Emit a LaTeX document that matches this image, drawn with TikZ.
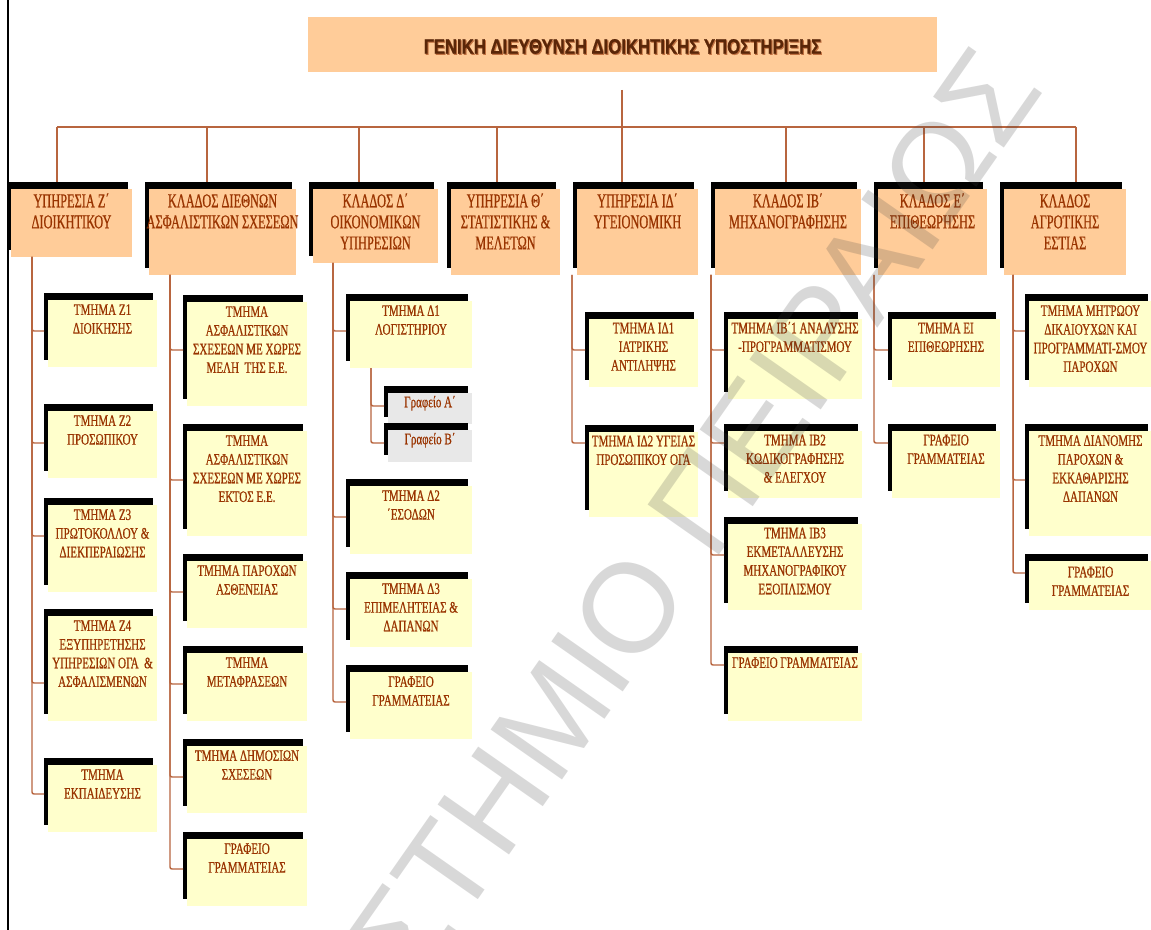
\documentclass[tikz,border=0pt]{standalone}
\usepackage{fontspec}
\setmainfont{Liberation Serif}
\newfontfamily\condA{Liberation Serif}[FakeStretch=0.63, FakeBold=0.6]
\newfontfamily\condB{Liberation Serif}[FakeStretch=0.69, FakeBold=0.6]
\newfontfamily\titlefont{Liberation Sans}[FakeStretch=0.8, FakeBold=0.8]
\newfontfamily\wmfont{Liberation Sans}
\usetikzlibrary{shadows}
\definecolor{peach}{HTML}{FFCC99}
\definecolor{paley}{HTML}{FFFFCC}
\definecolor{paleg}{HTML}{E8E8E8}
\definecolor{connc}{HTML}{B8653F}
\definecolor{txtc}{HTML}{993300}
\definecolor{titc}{HTML}{5A2608}
\definecolor{tits}{HTML}{C07040}
\tikzset{
  conn/.style={draw=connc, line width=1.1pt, rounded corners=1.5pt},
  boxbase/.style={rectangle, inner sep=0pt, outer sep=0pt, anchor=north west,
     general shadow={fill=black, shadow xshift=-3pt, shadow yshift=5pt}},
  lvA/.style={boxbase, fill=peach},
  lvB/.style={boxbase, fill=paley},
  lvC/.style={boxbase, fill=paleg},
  txtA/.style={font=\condA\fontsize{14.7}{15.8}\selectfont, text=txtc, align=center, inner sep=0pt, anchor=north},
  txtB/.style={font=\condB\fontsize{12}{14}\selectfont, text=txtc, align=center, inner sep=0pt, anchor=north},
  titlebox/.style={rectangle, fill=peach, inner sep=0pt, outer sep=0pt, anchor=north west},
  titletext/.style={font=\titlefont\bfseries\fontsize{15.7}{18}\selectfont, text=titc, inner sep=0pt},
  wmark/.style={font=\wmfont\fontsize{95}{95}\selectfont, text=black!75, text opacity=0.2, inner sep=0pt},
}
\newcommand\mkbox[7]{%
  \pgfmathsetmacro\mkbw{(#5-#3)*0.75}%
  \pgfmathsetmacro\mkbh{(#6-#4)*0.75}%
  \pgfmathsetmacro\mkdy{((#4+#6)/2-#7)*0.75}%
  \node[#2, minimum width=\mkbw pt, minimum height=\mkbh pt] (#1) at (#3,#4) {};
  \coordinate (#1-in) at ([xshift=-3pt, yshift=\mkdy pt]#1.west);
  \coordinate (#1-top) at ([yshift=5pt]#1.north);
}
\newcommand\mktxt[4]{\node[#2] (#1t) at (#1.north) {\rule{0pt}{#3}#4};}
\begin{document}
\begin{tikzpicture}[x=0.75pt, y=-0.75pt]
\useasboundingbox (0,0) rectangle (1151,930);
\clip (0,0) rectangle (1151,930);
\fill[white] (0,0) rectangle (1151,930);
\draw[line width=1.5pt] (8,0) -- (8,930);
% title
\node[titlebox, minimum width={629*0.75pt}, minimum height={55*0.75pt}] (top) at (308,17) {};
\node[titletext] (topt) at ([yshift=-1.9pt]top.center) {\rlap{\textcolor{tits}{\kern0.8pt\raisebox{-0.8pt}{ΓΕΝΙΚΗ ΔΙΕΥΘΥΝΣΗ ΔΙΟΙΚΗΤΙΚΗΣ ΥΠΟΣΤΗΡΙΞΗΣ}}}ΓΕΝΙΚΗ ΔΙΕΥΘΥΝΣΗ ΔΙΟΙΚΗΤΙΚΗΣ ΥΠΟΣΤΗΡΙΞΗΣ};
% level 1
\mkbox{L1}{lvA}{11}{189}{132}{257}{223}
\mkbox{L2}{lvA}{149}{189}{296}{275}{232}
\mkbox{L3}{lvA}{313}{189}{438}{263}{226}
\mkbox{L4}{lvA}{451}{189}{560}{275}{232}
\mkbox{L5}{lvA}{577}{189}{698}{275}{232}
\mkbox{L6}{lvA}{715}{189}{861}{275}{232}
\mkbox{L7}{lvA}{878}{189}{987}{275}{232}
\mkbox{L8}{lvA}{1004}{189}{1126}{275}{232}
\mktxt{L1}{txtA}{13.5pt}{ΥΠΗΡΕΣΙΑ Ζ΄\\ΔΙΟΙΚΗΤΙΚΟΥ}
\mktxt{L2}{txtA}{13.5pt}{ΚΛΑΔΟΣ ΔΙΕΘΝΩΝ\\ΑΣΦΑΛΙΣΤΙΚΩΝ ΣΧΕΣΕΩΝ}
\mktxt{L3}{txtA}{13.5pt}{ΚΛΑΔΟΣ Δ΄\\ΟΙΚΟΝΟΜΙΚΩΝ\\ΥΠΗΡΕΣΙΩΝ}
\mktxt{L4}{txtA}{13.5pt}{ΥΠΗΡΕΣΙΑ Θ΄\\ΣΤΑΤΙΣΤΙΚΗΣ \&\\ΜΕΛΕΤΩΝ}
\mktxt{L5}{txtA}{13.5pt}{ΥΠΗΡΕΣΙΑ ΙΔ΄\\ΥΓΕΙΟΝΟΜΙΚΗ}
\mktxt{L6}{txtA}{13.5pt}{ΚΛΑΔΟΣ ΙΒ΄\\ΜΗΧΑΝΟΓΡΑΦΗΣΗΣ}
\mktxt{L7}{txtA}{13.5pt}{ΚΛΑΔΟΣ Ε΄\\ΕΠΙΘΕΩΡΗΣΗΣ}
\mktxt{L8}{txtA}{13.5pt}{ΚΛΑΔΟΣ\\ΑΓΡΟΤΙΚΗΣ\\ΕΣΤΙΑΣ}
% top connectors
\coordinate (tp) at (622,90);
\coordinate (b1) at (57,127);
\coordinate (b2) at (207,127);
\coordinate (b3) at (359,127);
\coordinate (b4) at (497,127);
\coordinate (b6) at (786,127);
\coordinate (b7) at (924,127);
\coordinate (b8) at (1076,127);
\draw[conn] (b1) -- (b8);
\draw[conn] (tp) -- (tp |- L5-top);
\foreach \i in {1,2,3,4,6,7,8}{\draw[conn] (b\i) -- (b\i |- L\i-top);}
% column 1
\mkbox{Z1}{lvB}{48}{300}{157}{367}{331}
\mkbox{Z2}{lvB}{48}{411}{157}{478}{443}
\mkbox{Z3}{lvB}{48}{505}{157}{592}{536}
\mkbox{Z4}{lvB}{48}{616}{157}{721}{683}
\mkbox{Z5}{lvB}{48}{765}{157}{832}{794}
\mktxt{Z1}{txtB}{11pt}{ΤΜΗΜΑ Ζ1\\ΔΙΟΙΚΗΣΗΣ}
\mktxt{Z2}{txtB}{11pt}{ΤΜΗΜΑ Ζ2\\ΠΡΟΣΩΠΙΚΟΥ}
\mktxt{Z3}{txtB}{11pt}{ΤΜΗΜΑ Ζ3\\ΠΡΩΤΟΚΟΛΛΟΥ \&\\ΔΙΕΚΠΕΡΑΙΩΣΗΣ}
\mktxt{Z4}{txtB}{11pt}{ΤΜΗΜΑ Ζ4\\ΕΞΥΠΗΡΕΤΗΣΗΣ\\ΥΠΗΡΕΣΙΩΝ ΟΓΑ \ \&\\ΑΣΦΑΛΙΣΜΕΝΩΝ}
\mktxt{Z5}{txtB}{11pt}{ΤΜΗΜΑ\\ΕΚΠΑΙΔΕΥΣΗΣ}
\coordinate (t1) at (32,257);
\foreach \n in {Z1,Z2,Z3,Z4,Z5}{\draw[conn] (t1) |- (\n-in);}
% column 2
\mkbox{A1}{lvB}{187}{302}{307}{406}{350}
\mkbox{A2}{lvB}{187}{431}{307}{536}{480}
\mkbox{A3}{lvB}{187}{561}{307}{628}{592}
\mkbox{A4}{lvB}{187}{653}{307}{721}{684}
\mkbox{A5}{lvB}{187}{746}{307}{813}{777}
\mkbox{A6}{lvB}{187}{839}{307}{906}{869}
\mktxt{A1}{txtB}{11pt}{ΤΜΗΜΑ\\ΑΣΦΑΛΙΣΤΙΚΩΝ\\ΣΧΕΣΕΩΝ ΜΕ ΧΩΡΕΣ\\ΜΕΛΗ \ ΤΗΣ Ε.Ε.}
\mktxt{A2}{txtB}{11pt}{ΤΜΗΜΑ\\ΑΣΦΑΛΙΣΤΙΚΩΝ\\ΣΧΕΣΕΩΝ ΜΕ ΧΩΡΕΣ\\ΕΚΤΟΣ Ε.Ε.}
\mktxt{A3}{txtB}{11pt}{ΤΜΗΜΑ ΠΑΡΟΧΩΝ\\ΑΣΘΕΝΕΙΑΣ}
\mktxt{A4}{txtB}{11pt}{ΤΜΗΜΑ\\ΜΕΤΑΦΡΑΣΕΩΝ}
\mktxt{A5}{txtB}{11pt}{ΤΜΗΜΑ ΔΗΜΟΣΙΩΝ\\ΣΧΕΣΕΩΝ}
\mktxt{A6}{txtB}{11pt}{ΓΡΑΦΕΙΟ\\ΓΡΑΜΜΑΤΕΙΑΣ}
\coordinate (t2) at (170,275);
\foreach \n in {A1,A2,A3,A4,A5,A6}{\draw[conn] (t2) |- (\n-in);}
% column 3
\mkbox{D1}{lvB}{350}{301}{472}{368}{331}
\mkbox{GA}{lvC}{388}{393}{472}{424}{406}
\mkbox{GB}{lvC}{388}{430}{472}{462}{443}
\mkbox{D2}{lvB}{350}{486}{472}{554}{517}
\mkbox{D3}{lvB}{350}{579}{472}{647}{609}
\mkbox{D4}{lvB}{350}{672}{472}{739}{702}
\mktxt{D1}{txtB}{11pt}{ΤΜΗΜΑ Δ1\\ΛΟΓΙΣΤΗΡΙΟΥ}
\mktxt{GA}{txtB}{10.5pt}{Γραφείο Α΄}
\mktxt{GB}{txtB}{10.5pt}{Γραφείο Β΄}
\mktxt{D2}{txtB}{11pt}{ΤΜΗΜΑ Δ2\\΄ΕΣΟΔΩΝ}
\mktxt{D3}{txtB}{11pt}{ΤΜΗΜΑ Δ3\\ΕΠΙΜΕΛΗΤΕΙΑΣ \&\\ΔΑΠΑΝΩΝ}
\mktxt{D4}{txtB}{11pt}{ΓΡΑΦΕΙΟ\\ΓΡΑΜΜΑΤΕΙΑΣ}
\coordinate (t3) at (333,263);
\foreach \n in {D1,D2,D3,D4}{\draw[conn] (t3) |- (\n-in);}
\coordinate (s1) at (371,368);
\foreach \n in {GA,GB}{\draw[conn] (s1) |- (\n-in);}
% column 4
\mkbox{I1}{lvB}{589}{319}{698}{387}{350}
\mkbox{I2}{lvB}{589}{432}{698}{517}{443}
\mktxt{I1}{txtB}{10.5pt}{ΤΜΗΜΑ ΙΔ1\\ΙΑΤΡΙΚΗΣ\\ΑΝΤΙΛΗΨΗΣ}
\mktxt{I2}{txtB}{10.5pt}{ΤΜΗΜΑ ΙΔ2 ΥΓΕΙΑΣ\\ΠΡΟΣΩΠΙΚΟΥ ΟΓΑ}
\coordinate (t4) at (572,275);
\foreach \n in {I1,I2}{\draw[conn] (t4) |- (\n-in);}
% column 5
\mkbox{B1}{lvB}{728}{319}{862}{399}{350}
\mkbox{B2}{lvB}{728}{431}{862}{498}{443}
\mkbox{B3}{lvB}{728}{524}{862}{610}{555}
\mkbox{B4}{lvB}{728}{653}{862}{721}{665}
\mktxt{B1}{txtB}{10.5pt}{ΤΜΗΜΑ ΙΒ΄1 ΑΝΑΛΥΣΗΣ\\-ΠΡΟΓΡΑΜΜΑΤΙΣΜΟΥ}
\mktxt{B2}{txtB}{10.5pt}{ΤΜΗΜΑ ΙΒ2\\ΚΩΔΙΚΟΓΡΑΦΗΣΗΣ\\\& ΕΛΕΓΧΟΥ}
\mktxt{B3}{txtB}{10.5pt}{ΤΜΗΜΑ ΙΒ3\\ΕΚΜΕΤΑΛΛΕΥΣΗΣ\\ΜΗΧΑΝΟΓΡΑΦΙΚΟΥ\\ΕΞΟΠΛΙΣΜΟΥ}
\mktxt{B4}{txtB}{11pt}{ΓΡΑΦΕΙΟ ΓΡΑΜΜΑΤΕΙΑΣ}
\coordinate (t5) at (711,275);
\foreach \n in {B1,B2,B3,B4}{\draw[conn] (t5) |- (\n-in);}
% column 6
\mkbox{E1}{lvB}{892}{319}{1000}{387}{350}
\mkbox{E2}{lvB}{892}{431}{1000}{498}{443}
\mktxt{E1}{txtB}{10.5pt}{ΤΜΗΜΑ ΕΙ\\ΕΠΙΘΕΩΡΗΣΗΣ}
\mktxt{E2}{txtB}{10.5pt}{ΓΡΑΦΕΙΟ\\ΓΡΑΜΜΑΤΕΙΑΣ}
\coordinate (t6) at (874,275);
\foreach \n in {E1,E2}{\draw[conn] (t6) |- (\n-in);}
% column 7
\mkbox{R1}{lvB}{1029}{301}{1152}{387}{331}
\mkbox{R2}{lvB}{1029}{431}{1152}{536}{480}
\mkbox{R3}{lvB}{1029}{561}{1152}{610}{573}
\mktxt{R1}{txtB}{11pt}{ΤΜΗΜΑ ΜΗΤΡΩΟΥ\\ΔΙΚΑΙΟΥΧΩΝ ΚΑΙ\\ΠΡΟΓΡΑΜΜΑΤΙ-ΣΜΟΥ\\ΠΑΡΟΧΩΝ}
\mktxt{R2}{txtB}{11pt}{ΤΜΗΜΑ ΔΙΑΝΟΜΗΣ\\ΠΑΡΟΧΩΝ \&\\ΕΚΚΑΘΑΡΙΣΗΣ\\ΔΑΠΑΝΩΝ}
\mktxt{R3}{txtB}{12pt}{ΓΡΑΦΕΙΟ\\ΓΡΑΜΜΑΤΕΙΑΣ}
\coordinate (t7) at (1013,275);
\foreach \n in {R1,R2,R3}{\draw[conn] (t7) |- (\n-in);}
% watermark
\node[wmark, rotate=55] (wm) at (557,711) {ΠΑΝΕΠΙΣΤΗΜΙΟ ΠΕΙΡΑΙΩΣ};
\end{tikzpicture}
\end{document}
